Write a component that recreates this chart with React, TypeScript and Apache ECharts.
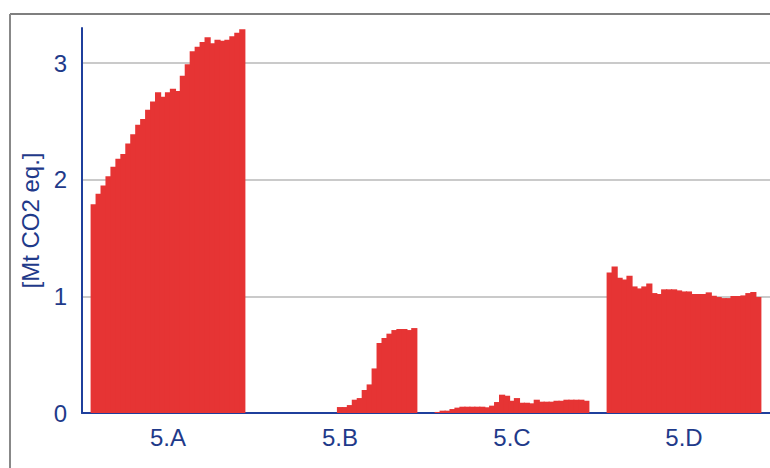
import React, { useEffect, useRef } from "react";
import * as echarts from "echarts";

const categories = ["5.A", "5.B", "5.C", "5.D"];
const years = [
  "1990", "1991", "1992", "1993", "1994", "1995", "1996", "1997", "1998", "1999",
  "2000", "2001", "2002", "2003", "2004", "2005", "2006", "2007", "2008", "2009",
  "2010", "2011", "2012", "2013", "2014", "2015", "2016", "2017", "2018", "2019", "2020",
];
const s5A = [
  1.79, 1.88, 1.95, 2.03, 2.11, 2.18, 2.22, 2.31, 2.39, 2.47,
  2.52, 2.6, 2.67, 2.75, 2.71, 2.75, 2.78, 2.76, 2.89, 2.99,
  3.1, 3.14, 3.18, 3.22, 3.17, 3.2, 3.19, 3.2, 3.23, 3.26, 3.29,
];
const s5B = [
  0, 0, 0, 0, 0, 0, 0, 0, 0, 0,
  0, 0, 0, 0, 0, 0.051, 0.051, 0.068, 0.114, 0.128,
  0.197, 0.245, 0.382, 0.6, 0.643, 0.68, 0.711, 0.72, 0.72, 0.711, 0.728,
];
const s5C = [
  0.009, 0.02, 0.02, 0.034, 0.046, 0.054, 0.054, 0.054, 0.054, 0.054,
  0.049, 0.063, 0.094, 0.157, 0.148, 0.105, 0.128, 0.088, 0.088, 0.083,
  0.114, 0.097, 0.097, 0.097, 0.105, 0.105, 0.114, 0.114, 0.114, 0.114, 0.105,
];
const s5D = [
  1.205, 1.256, 1.16, 1.145, 1.177, 1.085, 1.068, 1.085, 1.111, 1.028,
  1.02, 1.06, 1.06, 1.06, 1.051, 1.042, 1.042, 1.02, 1.02, 1.02,
  1.034, 1.005, 0.994, 0.985, 0.985, 1.003, 1.003, 1.008, 1.028, 1.037, 0.994,
];
const yTicks = [0, 1, 2, 3];

const BAR = "#e63434";
const BLUE = "#1f3f9c";
const TEXT = "#1f3a8a";
const FONT = "'Liberation Sans', Arial, sans-serif";

export default function App() {
  const ref = useRef<HTMLDivElement>(null);
  useEffect(() => {
    if (!ref.current) return;
    const chart = echarts.init(ref.current, null, { renderer: "svg" });
    const series = years.map((y, i) => ({
      type: "bar",
      name: y,
      data: [s5A[i], s5B[i], s5C[i], s5D[i]],
      itemStyle: { color: BAR },
      barGap: "-20%",
      barCategoryGap: "10%",
      silent: true,
    }));
    chart.setOption({
      animation: false,
      textStyle: { fontFamily: FONT },
      grid: { left: 82, right: 0, top: 28, bottom: 55 },
      graphic: [
        { type: "line", shape: { x1: 10, y1: 14, x2: 770, y2: 14 }, style: { stroke: "#000", lineWidth: 1.2 } },
        { type: "line", shape: { x1: 10, y1: 14, x2: 10, y2: 468 }, style: { stroke: "#888", lineWidth: 2 } },
      ],
      xAxis: {
        type: "category",
        data: categories,
        axisLine: { lineStyle: { color: BLUE, width: 2 } },
        axisTick: { show: false },
        axisLabel: { fontSize: 24, color: TEXT, margin: 12, fontFamily: FONT },
        splitLine: { show: false },
      },
      yAxis: {
        type: "value",
        min: yTicks[0],
        max: 3.3,
        interval: 1,
        name: "[Mt CO2 eq.]",
        nameLocation: "middle",
        nameGap: 36,
        nameTextStyle: { fontSize: 24, color: TEXT, fontFamily: FONT },
        axisLine: { show: true, lineStyle: { color: BLUE, width: 2 } },
        axisTick: { show: false },
        axisLabel: { fontSize: 24, color: TEXT, margin: 15, showMaxLabel: false, fontFamily: FONT },
        splitLine: { show: true, showMaxLine: false, showMinLine: false, lineStyle: { color: "#b8b8b8", width: 1.6 } },
      },
      series,
    });
    return () => chart.dispose();
  }, []);
  return <div ref={ref} style={{ position: "fixed", left: 0, top: 0, width: 770, height: 468, background: "#fff" }} />;
}
